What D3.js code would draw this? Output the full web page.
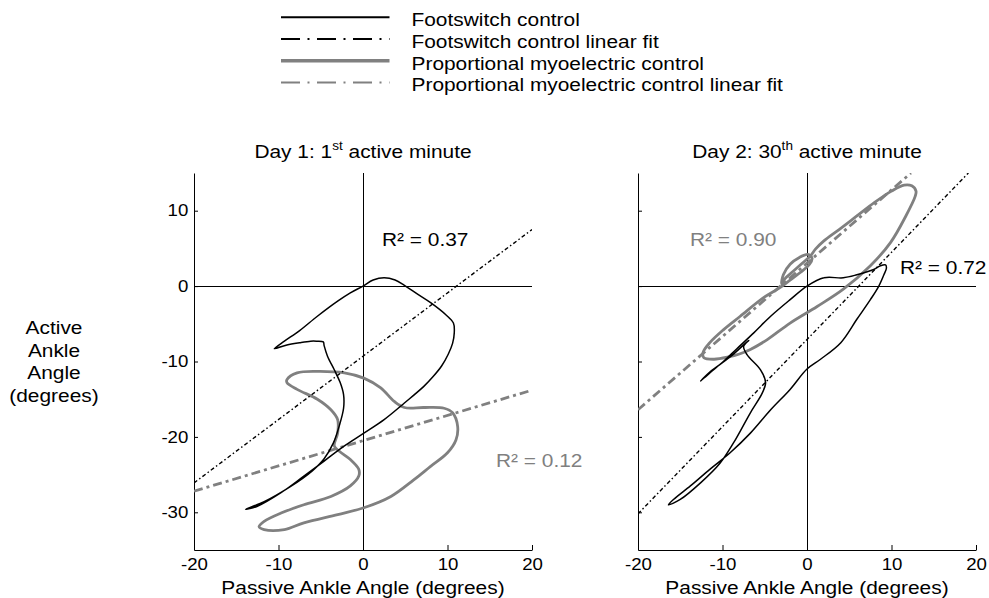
<!DOCTYPE html>
<html>
<head>
<meta charset="utf-8">
<script src="https://cdnjs.cloudflare.com/ajax/libs/d3/7.8.5/d3.min.js"></script>
<style>
body { margin: 0; background: #fff; }
text { font-family: "Liberation Sans", Arial, sans-serif; fill: #000; }
</style>
</head>
<body>
<svg id="chart" width="989" height="598"></svg>
<script>
var xTicks = [-20, -10, 0, 10, 20];
var yTicks = [-30, -20, -10, 0, 10];

var legendLabels = ["Footswitch control", "Footswitch control linear fit",
	"Proportional myoelectric control", "Proportional myoelectric control linear fit"];

// day 1, footswitch loop (passive, active)
var day1Foot = [[0,0],[1.2,0.8],[2.5,1.1],[3.8,0.8],[4.9,0.1],[6.5,-1.1],[8.0,-2.2],[9.8,-3.8],
	[10.7,-4.9],[10.8,-6.2],[10.6,-7.6],[10.1,-9.0],[9.3,-10.6],[8.3,-12.0],[7.2,-13.3],[4.9,-15.5],
	[2.5,-17.7],[0.1,-19.5],[-2.2,-21.2],[-4.6,-23.2],[-7.0,-25.2],[-9.7,-27.4],[-12.5,-29.2],
	[-13.9,-29.6],[-11.7,-28.6],[-8.6,-26.6],[-6.0,-24.5],[-4.6,-22.9],[-3.5,-20.8],[-2.8,-18.5],
	[-2.3,-16.2],[-2.3,-14.4],[-2.7,-12.8],[-3.4,-11.1],[-4.2,-9.3],[-4.6,-7.9],[-4.7,-7.4],
	[-5.5,-7.3],[-6.2,-7.3],[-7.5,-7.5],[-9.0,-7.8],[-10.5,-8.3],[-9.3,-7.3],[-7.5,-5.9],
	[-5.4,-4.0],[-3.0,-2.0],[-1.5,-0.9]];

// day 1, myoelectric loop
var day1Myo = [[-9.0,-12.4],[-7.8,-11.5],[-5.4,-11.3],[-2.2,-11.5],[0.1,-12.2],[2.1,-13.5],
	[3.7,-15.3],[4.9,-16.1],[7.2,-16.1],[9.6,-16.2],[10.6,-16.8],[11.2,-18.6],[11.0,-20.4],
	[10.0,-22.1],[8.0,-23.9],[6.0,-25.7],[3.3,-27.9],[0.1,-29.4],[-3.0,-30.3],[-7.0,-31.4],
	[-9.3,-32.3],[-11.7,-32.3],[-12.3,-31.9],[-11.7,-31.2],[-9.7,-30.1],[-7.0,-29.0],[-3.8,-27.9],
	[-1.5,-26.5],[-0.5,-25.2],[-0.5,-24.3],[-1.5,-23.0],[-2.8,-21.9],[-3.4,-21.2],[-3.0,-19.5],
	[-3.0,-17.7],[-3.8,-16.4],[-5.4,-15.0],[-7.8,-13.7],[-9.0,-12.8]];

// day 2, footswitch loop
var day2Foot = [[0,0],[2.0,1.1],[4.3,1.1],[5.9,1.5],[7.9,2.2],[8.7,2.7],[9.3,2.8],[9.4,2.4],
	[9.1,1.5],[8.5,0],[7.5,-1.8],[5.9,-4.4],[4.0,-7.5],[1.6,-9.7],[0,-11.0],[-2.0,-13.7],
	[-4.3,-16.4],[-6.7,-19.5],[-9.1,-22.1],[-11.5,-24.3],[-13.8,-26.5],[-15.8,-28.3],[-16.4,-29.0],
	[-15.0,-28.3],[-12.6,-26.1],[-10.3,-23.5],[-8.7,-20.8],[-6.7,-16.8],[-5.3,-14.2],[-4.9,-12.8],
	[-5.5,-11.1],[-7.1,-9.1],[-7.5,-8.0],[-6.9,-7.2],[-7.4,-7.7],[-9.1,-9.4],[-11.5,-11.4],
	[-12.6,-12.6],[-11.5,-11.5],[-9.9,-10.0],[-8.3,-8.3],[-6.3,-6.2],[-4.3,-4.0],[-2.0,-1.8]];

// day 2, myoelectric loop
var day2Myo = [[12.9,12.6],[12.4,13.3],[11.5,13.4],[10.0,12.6],[8.0,11.1],[5.9,9.3],[3.8,7.5],
	[2.0,6.0],[1.0,4.9],[0.4,4.0],[-0.6,3.0],[-1.6,2.0],[-2.6,1.0],[-3.0,0.3],[-2.8,1.5],
	[-2.0,2.9],[-0.9,3.8],[0.1,4.2],[0.6,3.7],[0.3,2.9],[-0.8,1.8],[-2.0,0.8],[-3.2,-0.2],
	[-5.1,-1.5],[-7.9,-4.0],[-9.9,-5.8],[-11.5,-7.5],[-12.3,-8.8],[-12.2,-9.5],[-11.0,-9.7],
	[-9.3,-9.4],[-8.0,-9.0],[-6.7,-8.4],[-4.7,-7.1],[-2.0,-4.9],[1.2,-2.7],[4.3,-0.4],[7.5,2.7],
	[9.9,5.8],[11.7,9.3],[12.8,11.9]];

// linear fit end points
var day1FootFit = [[-20,-26.1],[20,7.5]];
var day1MyoFit = [[-20,-27.2],[20,-13.8]];
var day2FootFit = [[-20,-30.2],[19.1,15]];
var day2MyoFit = [[-20,-16.4],[12.3,15]];

var r2Labels = [["0.37", "0.12"], ["0.72", "0.90"]];

var svg = d3.select("#chart");
var grey = "#808080";
var footDash = "4,2.5,1.5,2.5";
var myoDash = "9,4,3,4";
var SX = 1.13; // text in the picture is a bit wider than it is tall

function label(parent, x, y, size, anchor) {
	return parent.append("text")
		.attr("transform", "translate(" + x + "," + y + ") scale(" + SX + ",1)")
		.attr("font-size", size)
		.attr("text-anchor", anchor || "start");
}

// legend
var legendStyles = [
	{ color: "#000", width: 2, dash: null },
	{ color: "#000", width: 2, dash: "19,7.5,2,7.5" },
	{ color: grey, width: 3.5, dash: null },
	{ color: grey, width: 2, dash: "19,7.5,2,7.5" }
];
var legend = svg.append("g");
legendLabels.forEach(function(lbl, i) {
	var ly = 17.3 + i * 21.7;
	legend.append("line")
		.attr("x1", 281).attr("x2", 389.5)
		.attr("y1", ly).attr("y2", ly)
		.attr("stroke", legendStyles[i].color)
		.attr("stroke-width", legendStyles[i].width)
		.attr("stroke-dasharray", legendStyles[i].dash);
	label(legend, 411.5, ly + 9, 18.5).text(lbl);
});

// y axis label
["Active", "Ankle", "Angle", "(degrees)"].forEach(function(w, i) {
	label(svg, 54, 334 + i * 22.6, 18.5, "middle").text(w);
});

var panels = [
	{ x0: 194, x1: 532, day: "Day 1: ", num: "1", sup: "st", foot: day1Foot, myo: day1Myo,
	  footFit: day1FootFit, myoFit: day1MyoFit, labels: true,
	  r2: [{ v: r2Labels[0][0], x: 382, y: 246, c: "#000" }, { v: r2Labels[0][1], x: 496, y: 467, c: grey }] },
	{ x0: 638, x1: 976, day: "Day 2: ", num: "30", sup: "th", foot: day2Foot, myo: day2Myo,
	  footFit: day2FootFit, myoFit: day2MyoFit, labels: false,
	  r2: [{ v: r2Labels[1][0], x: 900, y: 274, c: "#000" }, { v: r2Labels[1][1], x: 690, y: 246, c: grey }] }
];

var y = d3.scaleLinear().domain([-35, 15]).range([550, 173]);

panels.forEach(function(p, k) {
	var x = d3.scaleLinear().domain([-20, 20]).range([p.x0, p.x1]);
	var g = svg.append("g");

	g.append("clipPath").attr("id", "clip" + k)
		.append("rect")
		.attr("x", x(-20)).attr("y", y(15))
		.attr("width", x(20) - x(-20)).attr("height", y(-35) - y(15));

	// zero lines
	g.append("line")
		.attr("x1", x(-20)).attr("x2", x(20))
		.attr("y1", Math.round(y(0)) + 0.5).attr("y2", Math.round(y(0)) + 0.5)
		.attr("stroke", "#000").attr("stroke-width", 1);
	g.append("line")
		.attr("x1", Math.round(x(0)) + 0.5).attr("x2", Math.round(x(0)) + 0.5)
		.attr("y1", y(15)).attr("y2", y(-35))
		.attr("stroke", "#000").attr("stroke-width", 1);

	var xAxis = g.append("g")
		.attr("transform", "translate(0," + y(-35) + ")")
		.call(d3.axisBottom(x).tickValues(xTicks).tickSize(-5).tickSizeOuter(0).tickPadding(8)
			.tickFormat(function(d) { return String(d); }));
	xAxis.selectAll("text").attr("font-size", 16.5).attr("fill", "#000")
		.attr("transform", "scale(" + SX + ",1)")
		.style("font-family", "'Liberation Sans', Arial, sans-serif");

	var yAxis = g.append("g")
		.attr("transform", "translate(" + x(-20) + ",0)")
		.call(d3.axisLeft(y).tickValues(yTicks).tickSize(-4).tickSizeOuter(0).tickPadding(5)
			.tickFormat(function(d) { return p.labels ? String(d) : ""; }));
	yAxis.selectAll("text").attr("font-size", 16.5).attr("fill", "#000")
		.attr("transform", "scale(" + SX + ",1)")
		.style("font-family", "'Liberation Sans', Arial, sans-serif");

	var cx = (x(-20) + x(20)) / 2;
	label(g, cx, 594, 18.5, "middle").text("Passive Ankle Angle (degrees)");

	var title = label(g, cx, 158, 18.5, "middle");
	title.append("tspan").text(p.day + p.num);
	title.append("tspan").attr("font-size", 12).attr("dy", -8).text(p.sup);
	title.append("tspan").attr("dy", 8).text(" active minute");

	var line = d3.line()
		.x(function(d) { return x(d[0]); })
		.y(function(d) { return y(d[1]); });
	var loop = d3.line()
		.x(function(d) { return x(d[0]); })
		.y(function(d) { return y(d[1]); })
		.curve(d3.curveCatmullRomClosed.alpha(0.5));

	var plot = g.append("g").attr("clip-path", "url(#clip" + k + ")");

	plot.append("path").datum(p.myo)
		.attr("fill", "none").attr("stroke", grey).attr("stroke-width", 2.8)
		.attr("stroke-linejoin", "round").attr("d", loop);
	plot.append("path").datum(p.myoFit)
		.attr("fill", "none").attr("stroke", grey).attr("stroke-width", 2.8)
		.attr("stroke-dasharray", myoDash).attr("d", line);
	plot.append("path").datum(p.foot)
		.attr("fill", "none").attr("stroke", "#000").attr("stroke-width", 1.5)
		.attr("stroke-linejoin", "round").attr("d", loop);
	plot.append("path").datum(p.footFit)
		.attr("fill", "none").attr("stroke", "#000").attr("stroke-width", 1.4)
		.attr("stroke-dasharray", footDash).attr("d", line);

	p.r2.forEach(function(r) {
		label(g, r.x, r.y, 18.5).style("fill", r.c).text("R\u00b2 = " + r.v);
	});

	g.selectAll(".domain, .tick line").attr("stroke", "#000").attr("stroke-width", 1);
});
</script>
</body>
</html>
